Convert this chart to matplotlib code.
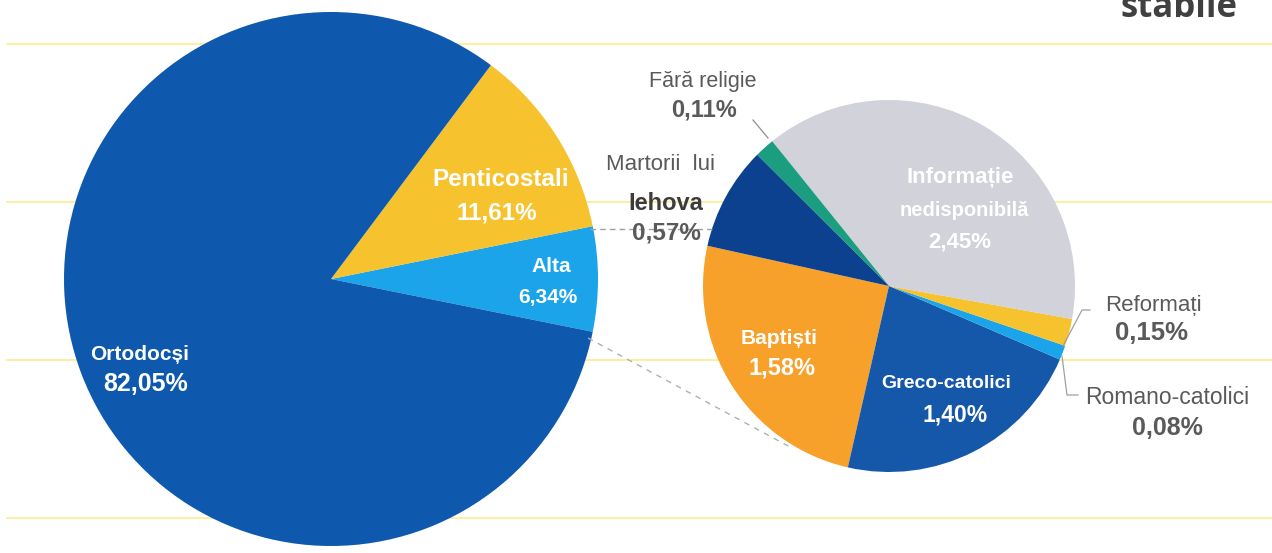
import matplotlib.pyplot as plt

W, H = 1272, 553

# main pie: Alta is broken down in the second pie
main_labels = ['Alta', 'Penticostali', 'Ortodocși']
main_values = [6.34, 11.61, 82.05]
main_colors = ['#1ba4ea', '#f6c22d', '#0e59ae']

detail_labels = ['Baptiști', 'Greco-catolici', 'Romano-catolici', 'Reformați',
                 'Informație nedisponibilă', 'Fără religie', 'Martorii lui Iehova']
detail_values = [1.58, 1.40, 0.08, 0.15, 2.45, 0.11, 0.57]
detail_colors = ['#f7a02a', '#1557a9', '#1ba4ea', '#f6c22d',
                 '#d1d2da', '#1b9e7f', '#0b418f']

plt.rcParams['font.family'] = ['Liberation Sans', 'DejaVu Sans']


def pct(v):
    return f"{v:.2f}".replace('.', ',') + '%'


def py(y):
    # pixel row (from top) -> data y
    return H - y


fig = plt.figure(figsize=(W / 100, H / 100), dpi=100)
ax = fig.add_axes([0, 0, 1, 1])

# pale yellow rules behind everything
for yy in [44, 202, 360, 518]:
    ax.plot([7, W], [py(yy), py(yy)], color='#fbf0a0', lw=1.4, zorder=0)

start_main = -main_values[0] / sum(main_values) * 360 / 2
ax.pie(main_values, colors=main_colors, startangle=start_main,
       center=(331, py(279)), radius=267,
       wedgeprops=dict(linewidth=0), frame=True)

ax.pie(detail_values, colors=detail_colors, startangle=167.5,
       center=(889, py(286)), radius=186,
       wedgeprops=dict(linewidth=0), frame=True)

# connectors between the two pies
ax.plot([590, 712], [py(229), py(229)], color='#a0a0a0', lw=1, ls=(0, (4, 3)), zorder=1)
ax.plot([588, 790], [py(338), py(447)], color='#b0b0b0', lw=1, ls=(0, (4, 4)), zorder=1)

# leader lines for the small slices
ax.plot([753, 768], [py(120), py(138)], color='#909090', lw=0.9)
ax.plot([1090, 1082, 1063], [py(310), py(310), py(346)], color='#a0a0a0', lw=0.9)
ax.plot([1062, 1067, 1078], [py(356), py(395), py(395)], color='#a0a0a0', lw=0.9)

white = dict(color='white', fontweight='bold', ha='center', va='center')
grey = dict(color='#5a5a5a', ha='center', va='center')

# main pie labels
ax.text(140, py(355), main_labels[2], fontsize=15, **white)
ax.text(146, py(384), pct(main_values[2]), fontsize=18, **white)
ax.text(501, py(180), main_labels[1], fontsize=17.5, **white)
ax.text(497, py(213), pct(main_values[1]), fontsize=17.5, **white)
ax.text(551, py(267), main_labels[0], fontsize=15, **white)
ax.text(548, py(297), pct(main_values[0]), fontsize=15, **white)

# second pie labels
ax.text(779, py(338), detail_labels[0], fontsize=15, **white)
ax.text(782, py(368), pct(detail_values[0]), fontsize=17, **white)
ax.text(946, py(383), detail_labels[1], fontsize=14, **white)
ax.text(955, py(415), pct(detail_values[1]), fontsize=16.5, **white)
ax.text(960, py(177), 'Informație', fontsize=16, **white)
ax.text(964, py(210), 'nedisponibilă', fontsize=14.5, **white)
ax.text(960, py(242), pct(detail_values[4]), fontsize=16, **white)

ax.text(703, py(82), detail_labels[5], fontsize=15.5, **grey)
ax.text(704, py(110), pct(detail_values[5]), fontsize=17, fontweight='bold', **grey)
ax.text(661, py(165), 'Martorii  lui', fontsize=16, **grey)
ax.text(666, py(204), 'Iehova', fontsize=17, fontweight='bold', color='#3c3c3c',
        ha='center', va='center')
ax.text(666, py(233), pct(detail_values[6]), fontsize=17.5, fontweight='bold', **grey)
ax.text(1153, py(305), detail_labels[3], fontsize=16, **grey)
ax.text(1151, py(333), pct(detail_values[3]), fontsize=18.5, fontweight='bold', **grey)
ax.text(1167, py(398), detail_labels[2], fontsize=16.5, **grey)
ax.text(1167, py(428), pct(detail_values[2]), fontsize=18, fontweight='bold', **grey)

# title fragment cut off at the top
ax.text(1237, py(17), 'stabile', fontsize=25, fontweight='bold', color='#404040',
        ha='right', va='baseline', family=['Open Sans', 'DejaVu Sans'])

ax.set_xlim(0, W)
ax.set_ylim(0, H)
ax.set_aspect('equal')
ax.axis('off')

fig.savefig('out.png', dpi=100)
